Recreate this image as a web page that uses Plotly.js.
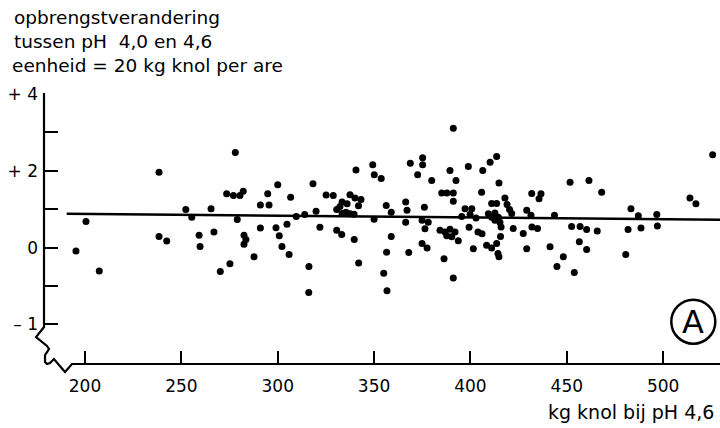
<!DOCTYPE html>
<html><head><meta charset="utf-8">
<script src="https://cdn.plot.ly/plotly-3.0.1.min.js"></script>
<style>html,body{margin:0;padding:0;background:#fff}</style>
</head><body><div id="chart" style="width:720px;height:428px"></div>
<script>
// ---- data ----
const xTickVals = [200, 250, 300, 350, 400, 450, 500];
const xTickText = ['200', '250', '300', '350', '400', '450', '500'];
const yTickVals = [4, 3, 2, 1, 0, -1, -2];
const yTickText = ['+ 4', '', '+ 2', '', '0', '', '– 1'];

const yieldAtPH46 = [
  195.3,200.5,207.4,238.4,238.4,242.4,252.3,255.4,265.4,259.2,259.7,266.9,270.2,275.2,278.0,273.5,277.0,280.4,282.1,279.0,282.5,283.5,282.5,
  287.7,291.0,295.5,294.8,300.0,291.0,299.1,300.8,302.2,304.8,305.9,306.7,309.6,314.0,316.2,316.1,318.3,319.9,321.9,325.1,328.8,330.6,330.6,333.2,333.4,336.0,332.3,333.4,335.4,337.5,339.6,337.5,340.1,343.2,341.9,340.6,339.7,342.0,349.3,350.1,353.7,350.0,356.3,358.9,358.9,356.5,355.0,356.7,366.4,367.1,366.4,368.0,368.8,
  391.1,375.2,375.2,372.6,379.9,389.4,392.5,398.9,406.4,410.2,413.6,414.8,405.8,385.1,387.8,391.1,391.1,376.1,374.9,378.1,376.4,395.5,397.2,400.7,399.8,402.9,399.3,403.9,406.0,384.2,386.8,389.4,392.0,387.7,390.3,393.7,374.9,377.5,386.3,391.1,401.5,408.4,411.0,413.6,414.3,414.8,415.6,415.9,411.0,413.6,409.3,411.0,412.7,414.5,412.7,415.3,417.9,419.0,420.3,421.4,422.2,427.4,429.2,431.4,431.8,436.6,435.6,431.9,434.8,429.2,441.3,443.6,444.9,
  451.7,461.5,468.1,452.5,456.9,460.3,465.8,456.5,460.3,448.2,453.9,483.3,487.1,481.8,488.5,480.6,496.7,497.0,513.9,517.0,525.7
];
const yieldChange = [
  -0.09,0.68,-0.61,1.96,0.29,0.17,0.99,0.79,1.01,0.32,0.03,0.41,-0.62,-0.42,2.48,1.40,1.36,1.36,1.47,0.73,0.32,0.21,0.09,
  -0.24,1.11,1.11,1.40,1.64,0.51,0.52,0.31,0.03,0.61,-0.18,1.31,0.81,0.86,-0.49,-1.17,1.66,0.95,0.53,1.37,1.36,0.99,0.45,0.34,1.19,1.14,1.07,0.89,0.92,0.88,0.87,1.38,1.29,1.25,1.09,2.02,0.21,-0.40,2.16,1.90,1.80,0.74,1.10,0.92,0.29,-0.12,-0.67,-1.12,1.19,0.97,0.66,-0.13,2.20,
  3.11,2.34,2.16,1.90,1.75,2.01,1.75,2.11,2.01,2.22,2.37,1.68,1.44,1.42,1.42,1.42,1.21,1.05,0.71,0.66,0.49,0.81,1.01,1.01,0.86,0.77,0.53,0.41,0.36,0.45,0.41,0.48,0.41,0.31,0.28,0.18,0.11,-0.01,-0.29,-0.79,-0.03,0.06,-0.01,0.11,-0.15,-0.24,0.29,0.54,1.15,1.15,0.88,0.79,0.90,0.79,0.71,0.66,1.29,1.12,0.99,0.89,0.50,0.37,0.97,0.84,1.41,1.40,1.27,0.54,0.50,-0.03,0.02,0.84,-0.49,
  1.70,1.75,1.44,0.55,0.55,0.47,0.43,0.15,-0.05,-0.24,-0.65,1.01,0.83,0.47,0.51,-0.18,0.86,0.56,1.29,1.14,2.42
];
const trendX = [190.5, 529.5];
const trendY = [0.883, 0.727];

const titleLines = ['opbrengstverandering', 'tussen pH  4,0 en 4,6', 'eenheid = 20 kg knol per are'];
const xLabel = 'kg knol bij pH 4,6';
const panelLetter = 'A';

// ---- layout helpers (pixel -> paper) ----
const W = 720, H = 428, L = 43, R = 0, T = 94, B = 64;
const PW = W - L - R, PH = H - T - B;
const px = x => (x - L) / PW;
const py = y => (H - B - y) / PH;
const FONT = 'DejaVu Sans';

const axisFrame = [[44,93],[44,327],[36,337],[47,346],[49,349],[47,352],[45,355],[45,362],[47,364],[50,363],[54,359],[65,372],[72,364],[720,364]];
const framePath = axisFrame.map((p, i) => (i ? 'L' : 'M') + px(p[0]).toFixed(4) + ',' + py(p[1]).toFixed(4)).join(' ');

const traces = [
  {x: yieldAtPH46, y: yieldChange, type: 'scatter', mode: 'markers',
   marker: {color: '#000', size: 7}, cliponaxis: false, hoverinfo: 'skip'},
  {x: trendX, y: trendY, type: 'scatter', mode: 'lines',
   line: {color: '#000', width: 2.5}, hoverinfo: 'skip'}
];

const layout = {
  width: W, height: H,
  margin: {l: L, r: R, t: T, b: B, pad: 0},
  paper_bgcolor: '#fff', plot_bgcolor: '#fff',
  showlegend: false,
  font: {family: FONT, color: '#000', size: 17},
  xaxis: {range: [178.2, 529.5], showgrid: false, zeroline: false, showline: false,
          ticks: 'inside', ticklen: 13, tickwidth: 2, tickcolor: '#000',
          tickvals: xTickVals, ticktext: xTickText, ticklabelstandoff: 10,
          tickfont: {family: FONT, size: 17, color: '#000'}},
  yaxis: {range: [-3.03, 4.0], showgrid: false, zeroline: false, showline: false,
          ticks: 'inside', ticklen: 15, tickwidth: 2, tickcolor: '#000',
          tickvals: yTickVals, ticktext: yTickText, ticklabelstandoff: 4,
          tickfont: {family: FONT, size: 17, color: '#000'}},
  shapes: [
    {type: 'path', xref: 'paper', yref: 'paper', layer: 'above', path: framePath, line: {color: '#000', width: 2.2}},
    {type: 'circle', xref: 'paper', yref: 'paper',
     x0: px(693.3 - 22), x1: px(693.3 + 22), y0: py(321.7 + 22), y1: py(321.7 - 22),
     line: {color: '#000', width: 2.5}}
  ],
  annotations: [
    {text: titleLines[0], xref: 'paper', yref: 'paper', x: px(12), y: py(17), xanchor: 'left', yanchor: 'middle', showarrow: false, font: {family: FONT, size: 18.5}},
    {text: titleLines[1], xref: 'paper', yref: 'paper', x: px(12), y: py(41), xanchor: 'left', yanchor: 'middle', showarrow: false, font: {family: FONT, size: 18.5}},
    {text: titleLines[2], xref: 'paper', yref: 'paper', x: px(10), y: py(65), xanchor: 'left', yanchor: 'middle', showarrow: false, font: {family: FONT, size: 18.5}},
    {text: xLabel, xref: 'paper', yref: 'paper', x: px(716), y: py(412), xanchor: 'right', yanchor: 'middle', showarrow: false, font: {family: FONT, size: 19}},
    {text: panelLetter, xref: 'paper', yref: 'paper', x: px(693.3), y: py(321.7), xanchor: 'center', yanchor: 'middle', showarrow: false, font: {family: FONT, size: 32}}
  ]
};

Plotly.newPlot('chart', traces, layout, {displayModeBar: false, staticPlot: true});
</script>
</body></html>
